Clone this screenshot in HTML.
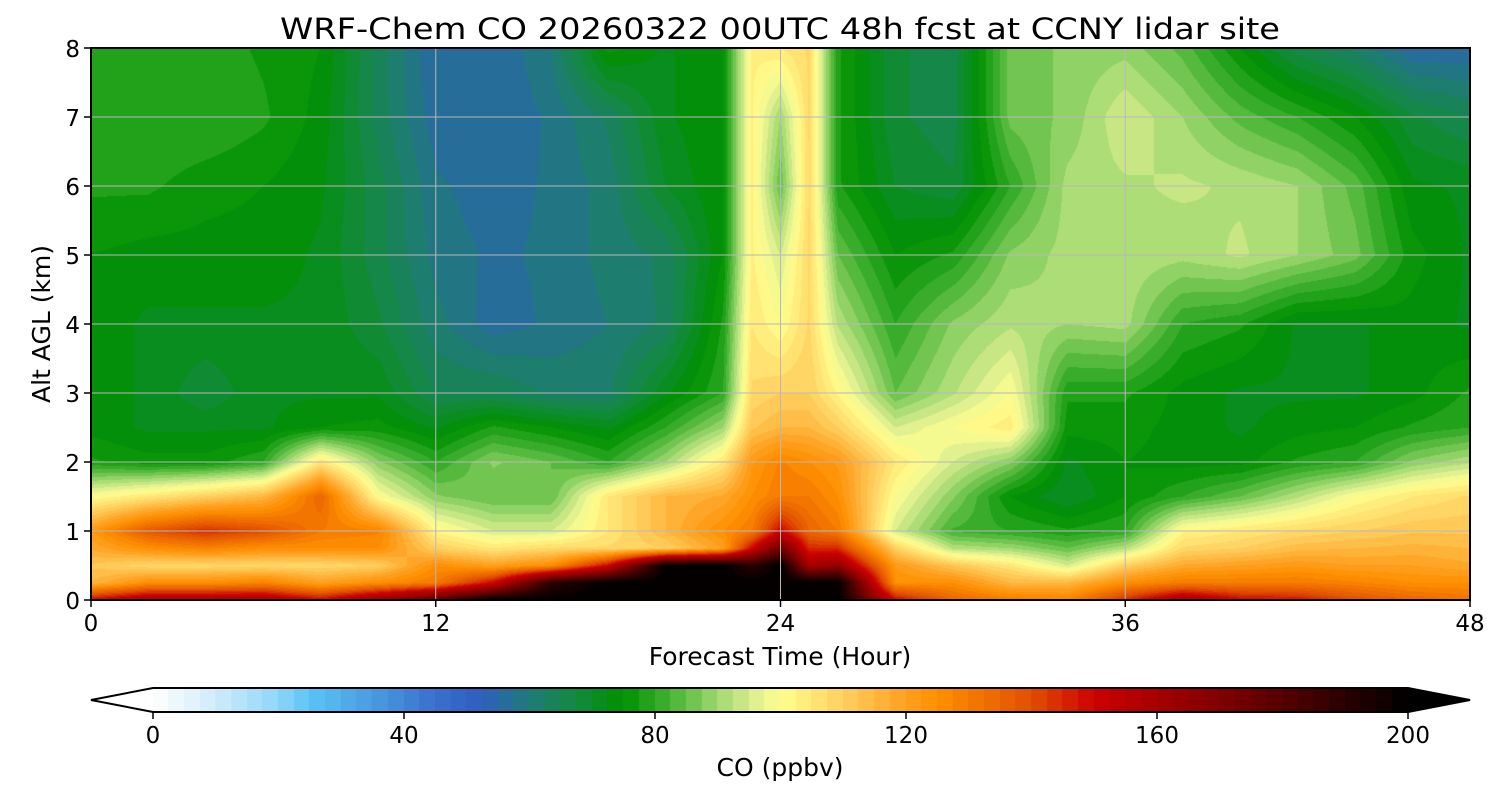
<!DOCTYPE html>
<html><head><meta charset="utf-8">
<style>
body{margin:0;background:#fff;width:1500px;height:800px;overflow:hidden;font-family:"DejaVu Sans","Liberation Sans",sans-serif;}
#wrap{position:relative;width:1500px;height:800px;}
canvas,svg{position:absolute;left:0;top:0;}
svg text{font-family:"DejaVu Sans","Liberation Sans",sans-serif;}
</style></head><body>
<div id="wrap">
<canvas id="cv" width="1500" height="800"></canvas>
<svg id="sv" width="1500" height="800"></svg>
</div>
<script>
const hours=[0,2,4,6,8,10,12,14,16,18,20,22,23,24,25,26,28,30,32,34,36,38,40,42,44,46,48];
const heights=[0,0.25,0.5,0.75,1,1.5,2,2.5,3,4,5,6,7,8];
const coValues=[
[150,115,112,118,122,100,78,74,74,74,75,78,80,79],
[160,125,108,125,138,105,76,72,72,72,74,78,80,78],
[160,125,108,128,145,110,76,72,68,72,74,76,80,79],
[160,128,108,125,140,115,80,72,72,72,74,75,78,77],
[150,120,108,125,130,135,105,75,72,72,72,73,74,75],
[165,125,110,125,128,100,88,76,72,68,66,66,64,64],
[180,130,125,110,102,88,80,72,65,61,59,58,56,55],
[200,150,120,105,95,85,88,78,65,56,57,56,55,55],
[200,190,125,108,95,85,85,75,62,58,58,58,58,60],
[200,200,150,108,105,105,80,72,62,60,61,61,63,76],
[200,200,200,110,115,115,90,80,72,63,63,70,72,72],
[200,200,200,120,125,118,105,90,80,78,75,75,75,75],
[200,200,190,150,130,125,122,112,108,105,103,103,103,103],
[200,200,200,175,150,130,128,115,110,100,95,85,90,105],
[200,200,160,145,135,130,125,115,110,108,108,108,108,108],
[200,200,165,145,130,125,122,110,102,92,85,78,78,78],
[150,125,122,110,95,100,105,95,85,80,75,70,68,68],
[135,125,112,92,82,88,95,100,92,88,78,68,66,66],
[130,115,105,90,80,75,88,104,100,92,88,80,86,86],
[128,115,95,85,78,70,72,76,78,90,91,91,88,88],
[145,125,110,92,80,75,75,76,78,91,92,92,95,89],
[160,130,118,108,102,80,74,74,74,80,91,93,90,84],
[150,130,120,110,105,85,74,72,72,78,93,92,84,75],
[148,130,122,114,108,92,78,74,72,72,90,90,80,66],
[140,128,120,115,110,100,80,75,72,72,86,84,75,62],
[135,125,120,116,112,105,88,78,74,74,76,73,68,55],
[132,125,118,115,112,108,92,80,78,72,72,72,65,55]];
const xTicks=[0,12,24,36,48];
const yTicks=[0,1,2,3,4,5,6,7,8];
const cbTicks=[0,40,80,120,160,200];
const cmapVals=[0,10,20,25,35,45,52,60,68,75,82,90,96,100,110,120,125,140,150,170,185,200];
const cmapCols=["#ffffff","#d0ecfa","#8fd6f8","#5bc4f5","#4a9be0","#3a70cc","#2f5fbf","#1f7a78","#128a3a","#009000","#40b030","#a0d870","#e0f090","#ffff90","#ffd060","#ffa020","#ff9000","#e05000","#cc0000","#800000","#400000","#000000"];

const PX0=91,PX1=1470,PY0=48,PY1=600;
const xs=h=>PX0+(h/48)*(PX1-PX0);
const ys=k=>PY1-(k/8)*(PY1-PY0);
const CB0=153,CB1=1408,CBY0=688,CBY1=712;
const cbx=v=>CB0+(v/200)*(CB1-CB0);
function hex(c){return [parseInt(c.substr(1,2),16),parseInt(c.substr(3,2),16),parseInt(c.substr(5,2),16)];}
const cm=cmapCols.map(hex);
function color(v){
  v=Math.max(0,Math.min(200,v));
  for(let i=0;i<cmapVals.length-1;i++){
    if(v<=cmapVals[i+1]){const t=(v-cmapVals[i])/(cmapVals[i+1]-cmapVals[i]);
      return cm[i].map((a,j)=>Math.round(a+(cm[i+1][j]-a)*t));}
  }
  return cm[cm.length-1];
}
function seg(arr,v){for(let i=0;i<arr.length-1;i++){if(v<=arr[i+1])return [i,(v-arr[i])/(arr[i+1]-arr[i])];}return [arr.length-2,1];}
const cv=document.getElementById('cv');const ctx=cv.getContext('2d');
const W=PX1-PX0,Hh=PY1-PY0;
const img=ctx.createImageData(W,Hh);
const lut=[];for(let q=0;q<=80;q++)lut.push(color(q*2.5+1.25));
for(let py=0;py<Hh;py++){
  const k=(PY1-(PY0+py+0.5))/(PY1-PY0)*8;const [j,tj]=seg(heights,k);
  for(let px=0;px<W;px++){
    const h=(px+0.5)/W*48;const [i,ti]=seg(hours,h);
    const a=coValues[i][j]*(1-tj)+coValues[i][j+1]*tj;
    const b=coValues[i+1][j]*(1-tj)+coValues[i+1][j+1]*tj;
    const v=a*(1-ti)+b*ti;
    const q=Math.max(0,Math.min(79,Math.floor(v/2.5)));
    const c=lut[q];const o=(py*W+px)*4;
    img.data[o]=c[0];img.data[o+1]=c[1];img.data[o+2]=c[2];img.data[o+3]=255;
  }
}
ctx.putImageData(img,PX0,PY0);
for(let q=0;q<80;q++){const c=lut[q];ctx.fillStyle=`rgb(${c[0]},${c[1]},${c[2]})`;
  ctx.fillRect(Math.floor(cbx(q*2.5)),CBY0,Math.ceil(cbx(2.5)-cbx(0))+1,CBY1-CBY0);}

const sv=document.getElementById('sv');const NS="http://www.w3.org/2000/svg";
function el(t,a,txt){const e=document.createElementNS(NS,t);for(const k in a)e.setAttribute(k,a[k]);if(txt!==undefined)e.textContent=txt;sv.appendChild(e);return e;}
let e;
xTicks.forEach(t=>{
  e=el('line',{x1:xs(t),x2:xs(t),y1:PY0,y2:PY1,stroke:'#b8b8b8','stroke-width':1});
  
  e=el('line',{x1:xs(t),x2:xs(t),y1:PY1,y2:PY1+7,stroke:'#000','stroke-width':1.5});
  
  e=el('text',{x:xs(t),y:631,'font-size':23,'text-anchor':'middle'},String(t));
  
});
yTicks.forEach(t=>{
  e=el('line',{x1:PX0,x2:PX1,y1:ys(t),y2:ys(t),stroke:'#b8b8b8','stroke-width':1});
  
  e=el('line',{x1:PX0-7,x2:PX0,y1:ys(t),y2:ys(t),stroke:'#000','stroke-width':1.5});
  
  e=el('text',{x:PX0-11,y:ys(t)+9,'font-size':23,'text-anchor':'end'},String(t));
  
});
e=el('rect',{x:PX0,y:PY0,width:PX1-PX0,height:PY1-PY0,fill:'none',stroke:'#000','stroke-width':2});

e=el('text',{x:780,y:39,'font-size':29,'text-anchor':'middle',textLength:1000,lengthAdjust:'spacingAndGlyphs'},'WRF-Chem CO  20260322 00UTC 48h fcst at CCNY lidar site');

e=el('text',{x:780,y:665,'font-size':25,'text-anchor':'middle'},'Forecast Time (Hour)');

e=el('text',{x:50,y:324,'font-size':25,'text-anchor':'middle',transform:'rotate(-90 50 324)'},'Alt AGL (km)');

e=el('polygon',{points:`${CB0},${CBY0} ${CB0},${CBY1} ${PX0},700`,fill:'#ffffff',stroke:'none'});

e=el('polygon',{points:`${CB1},${CBY0} ${CB1},${CBY1} ${PX1},700`,fill:'#000000',stroke:'none'});

e=el('polygon',{points:`${CB0},${CBY0} ${CB1},${CBY0} ${PX1},700 ${CB1},${CBY1} ${CB0},${CBY1} ${PX0},700`,fill:'none',stroke:'#000','stroke-width':2});

cbTicks.forEach(t=>{
  e=el('line',{x1:cbx(t),x2:cbx(t),y1:CBY1,y2:CBY1+7,stroke:'#000','stroke-width':1.5});
  
  e=el('text',{x:cbx(t),y:743,'font-size':23,'text-anchor':'middle'},String(t));
  
});
e=el('text',{x:780,y:776,'font-size':25,'text-anchor':'middle'},'CO  (ppbv)');

</script>
</body></html>
